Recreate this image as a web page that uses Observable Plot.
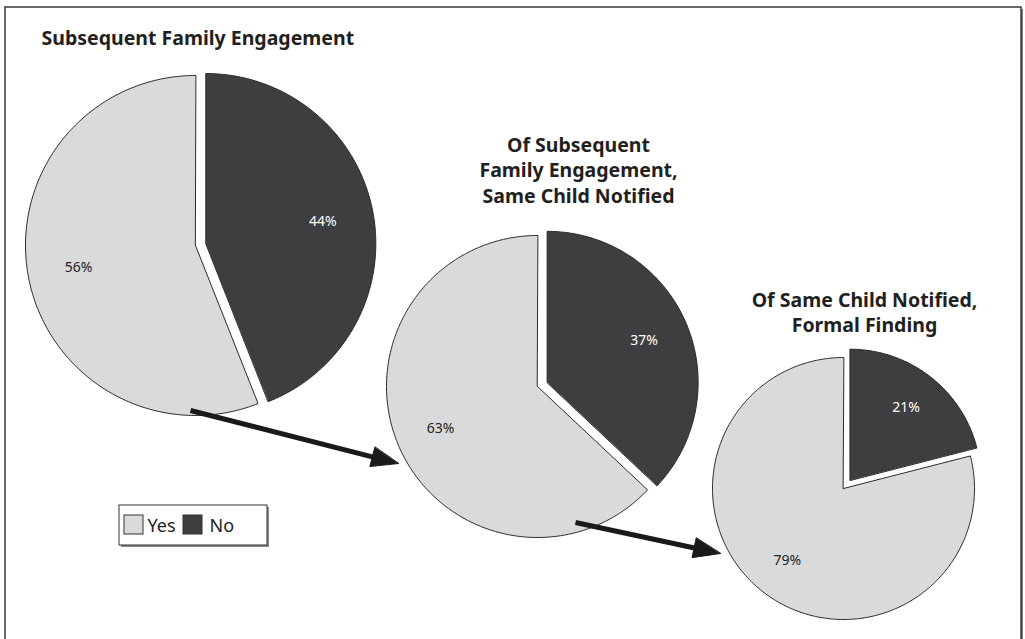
<!DOCTYPE html>
<html>
<head>
<meta charset="utf-8">
<script src="https://cdn.jsdelivr.net/npm/d3@7"></script>
<script src="https://cdn.jsdelivr.net/npm/@observablehq/plot@0.6"></script>
<style>
  body { margin: 0; background: #fff; }
  svg { display: block; }
</style>
</head>
<body>
<div id="chart"></div>
<script>
// ---- data -------------------------------------------------------------
const answers = ["No", "Yes"];
const pieTitles = [
  ["Subsequent Family Engagement"],
  ["Of Subsequent", "Family Engagement,", "Same Child Notified"],
  ["Of Same Child Notified,", "Formal Finding"]
];
const noShare = [44, 37, 21];
const yesShare = [56, 63, 79];

// ---- styling / layout ---------------------------------------------------
const W = 1025, H = 639;
const fillOf = {Yes: "#d9dadc", No: "#3e3e40"};
const font = "'Noto Sans', 'Open Sans', sans-serif";
const pies = [
  {cx: 195, cy: 245, r: 170, tx: 41,  ty: 38,  anchor: "start"},
  {cx: 537, cy: 386, r: 151, tx: 578, ty: 145, anchor: "middle"},
  {cx: 843, cy: 488, r: 131, tx: 864, ty: 300, anchor: "middle"}
];
const explode = 10.5;      // offset of the "No" wedge
const labelRadius = 0.7;   // label distance as a share of the radius
const titleLeading = 25.5;

// wedge outlines and label anchors from d3.pie angles (clockwise from 12 o'clock)
const wedgePoints = [];
const wedgeLabels = [];
pies.forEach((p, i) => {
  const values = [noShare[i], yesShare[i]];
  const arcs = d3.pie().sort(null)(values);
  arcs.forEach((a, j) => {
    const key = answers[j];
    const mid = (a.startAngle + a.endAngle) / 2;
    const off = key === "No" ? explode : 0;
    const ox = p.cx + off * Math.sin(mid), oy = p.cy - off * Math.cos(mid);
    const id = `${i}-${key}`;
    wedgePoints.push({id, key, x: ox, y: oy});
    const n = Math.max(2, Math.ceil((a.endAngle - a.startAngle) / (Math.PI / 180)));
    for (let k = 0; k <= n; ++k) {
      const t = a.startAngle + (a.endAngle - a.startAngle) * k / n;
      wedgePoints.push({id, key, x: ox + p.r * Math.sin(t), y: oy - p.r * Math.cos(t)});
    }
    const lr = p.r * labelRadius;
    wedgeLabels.push({
      key, text: `${a.value}%`,
      x: ox + lr * Math.sin(mid), y: oy - lr * Math.cos(mid)
    });
  });
});

// title lines
const titleLines = [];
pieTitles.forEach((lines, i) => lines.forEach((t, k) =>
  titleLines.push({text: t, x: pies[i].tx, y: pies[i].ty + k * titleLeading, anchor: pies[i].anchor})));

// arrows linking the pies: shaft plus a filled head
const arrows = [
  {x1: 190, y1: 410, x2: 398, y2: 463},
  {x1: 575, y1: 522, x2: 720, y2: 553}
];
const headLen = 27, headHalf = 10;
const shafts = [], heads = [];
arrows.forEach((a, i) => {
  const dx = a.x2 - a.x1, dy = a.y2 - a.y1, L = Math.hypot(dx, dy);
  const ux = dx / L, uy = dy / L, nx = -uy, ny = ux;
  const bx = a.x2 - ux * headLen, by = a.y2 - uy * headLen;
  shafts.push({x1: a.x1, y1: a.y1, x2: bx + ux * 4, y2: by + uy * 4});
  heads.push({id: i, x: a.x2, y: a.y2});
  heads.push({id: i, x: bx + nx * headHalf, y: by + ny * headHalf});
  heads.push({id: i, x: bx - nx * headHalf, y: by - ny * headHalf});
});

// legend
const legendBox = {x1: 119, x2: 267, y1: 505, y2: 545};
const legendItems = [
  {key: "Yes", sx: 124, tx: 147},
  {key: "No", sx: 183, tx: 209}
];

const titleStyle = {x: "x", y: "y", text: "text", fontSize: 19.5, fontWeight: "bold", fill: "#231f20"};

const chart = Plot.plot({
  width: W, height: H,
  margin: 0,
  x: {domain: [0, W], range: [0, W], axis: null},
  y: {domain: [0, H], range: [0, H], axis: null},
  style: {fontFamily: font, background: "#fff"},
  marks: [
    // outer frame
    Plot.rect([0], {x1: 7, x2: 1023, y1: 9, y2: 700, fill: "#777"}),
    Plot.rect([0], {x1: 5, x2: 1021, y1: 7, y2: 700, fill: "#fff", stroke: "#3a3a3a", strokeWidth: 1.5}),
    // pies
    Plot.line(wedgePoints, {
      x: "x", y: "y", z: "id",
      fill: d => fillOf[d.key], stroke: "#2a2a2a", strokeWidth: 1,
      curve: "linear-closed"
    }),
    Plot.text(wedgeLabels, {
      x: "x", y: "y", text: "text",
      fill: d => d.key === "No" ? "#ffffff" : "#222222",
      fontSize: 14
    }),
    // titles
    Plot.text(titleLines.filter(d => d.anchor === "start"), {...titleStyle, textAnchor: "start"}),
    Plot.text(titleLines.filter(d => d.anchor === "middle"), {...titleStyle, textAnchor: "middle"}),
    // arrows
    Plot.link(shafts, {x1: "x1", y1: "y1", x2: "x2", y2: "y2", stroke: "#1a1a1a", strokeWidth: 5}),
    Plot.line(heads, {x: "x", y: "y", z: "id", fill: "#1a1a1a", stroke: "#1a1a1a", strokeWidth: 1, curve: "linear-closed"}),
    // legend
    Plot.rect([legendBox], {x1: d => d.x1 + 2, x2: d => d.x2 + 2, y1: d => d.y1 + 2, y2: d => d.y2 + 2, fill: "#888"}),
    Plot.rect([legendBox], {x1: "x1", x2: "x2", y1: "y1", y2: "y2", fill: "#fff", stroke: "#333", strokeWidth: 1}),
    Plot.rect(legendItems, {
      x1: "sx", x2: d => d.sx + 19, y1: legendBox.y1 + 10, y2: legendBox.y1 + 29,
      fill: d => fillOf[d.key], stroke: "#333", strokeWidth: 1
    }),
    Plot.text(legendItems, {
      x: "tx", y: (legendBox.y1 + legendBox.y2) / 2 + 1, text: "key",
      textAnchor: "start", fontSize: 18, fill: "#222"
    })
  ]
});
document.getElementById("chart").appendChild(chart);
</script>
</body>
</html>
